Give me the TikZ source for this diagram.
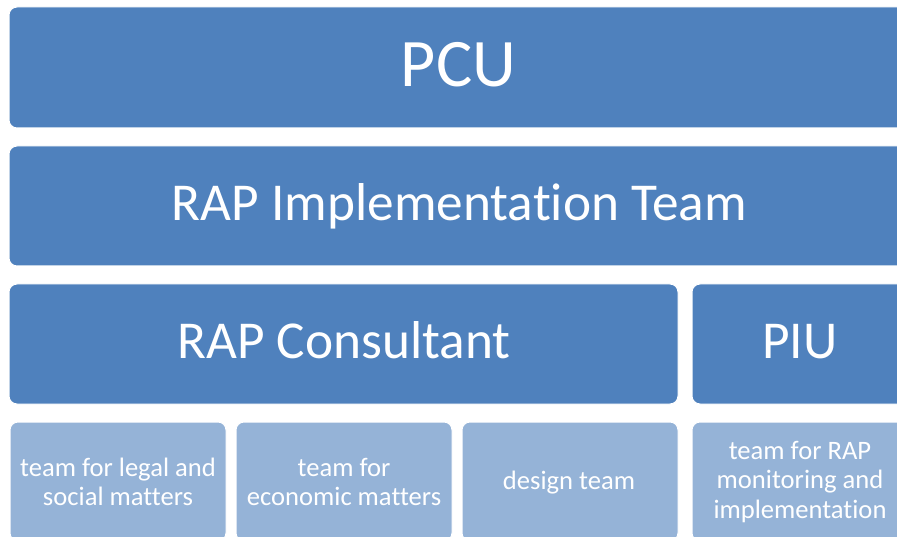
\documentclass[tikz,border=0pt]{standalone}
\usepackage{fontspec}
\setmainfont[Ligatures=NoCommon]{Carlito}
\definecolor{darkb}{HTML}{4F81BD}
\definecolor{lightb}{HTML}{95B3D7}
\begin{document}
\begin{tikzpicture}[x=1pt,y=-1pt,
  bigbox/.style={fill=darkb,draw=white,line width=1pt,rounded corners=8pt},
  smallbox/.style={fill=lightb,draw=white,line width=1pt,rounded corners=8pt},
  bigtxt/.style={text=white,font=\fontsize{53.3}{60}\selectfont,inner sep=0pt},
  smalltxt/.style={text=white,font=\fontsize{26.6}{29.5}\selectfont,align=center,inner sep=0pt}]
\useasboundingbox (0,0) rectangle (897,537);
\clip (0,0) rectangle (897,537);
\fill[white] (0,0) rectangle (897,537);
% boxes
\path[bigbox] (9,7) rectangle (908,128);
\path[bigbox] (9,146) rectangle (908,266);
\path[bigbox] (9,284) rectangle (678,404);
\path[bigbox] (692,284) rectangle (908,404);
\path[smallbox] (10,422) rectangle (226,541);
\path[smallbox] (236,422) rectangle (452,541);
\path[smallbox] (462,422) rectangle (678,541);
\path[smallbox] (692,422) rectangle (908,541);
% texts
\node[bigtxt,font=\fontsize{68}{74}\selectfont,anchor=base] (pcu) at (458.5,87) {PCU};
\node[bigtxt,anchor=base] (rit) at (459.5,221) {RAP Implementation Team};
\node[bigtxt,anchor=base] (rc) at (344,358) {RAP Consultant};
\node[bigtxt,anchor=base] (piu) at (800,358) {PIU};
\node[smalltxt] (t1) at (118,482) {team for legal and\\social matters};
\node[smalltxt] (t2) at (344,482) {team for\\economic matters};
\node[smalltxt] (t3) at (569,483) {design team};
\node[smalltxt] (t4) at (800,482) {team for RAP\\monitoring and\\implementation};
\end{tikzpicture}
\end{document}
